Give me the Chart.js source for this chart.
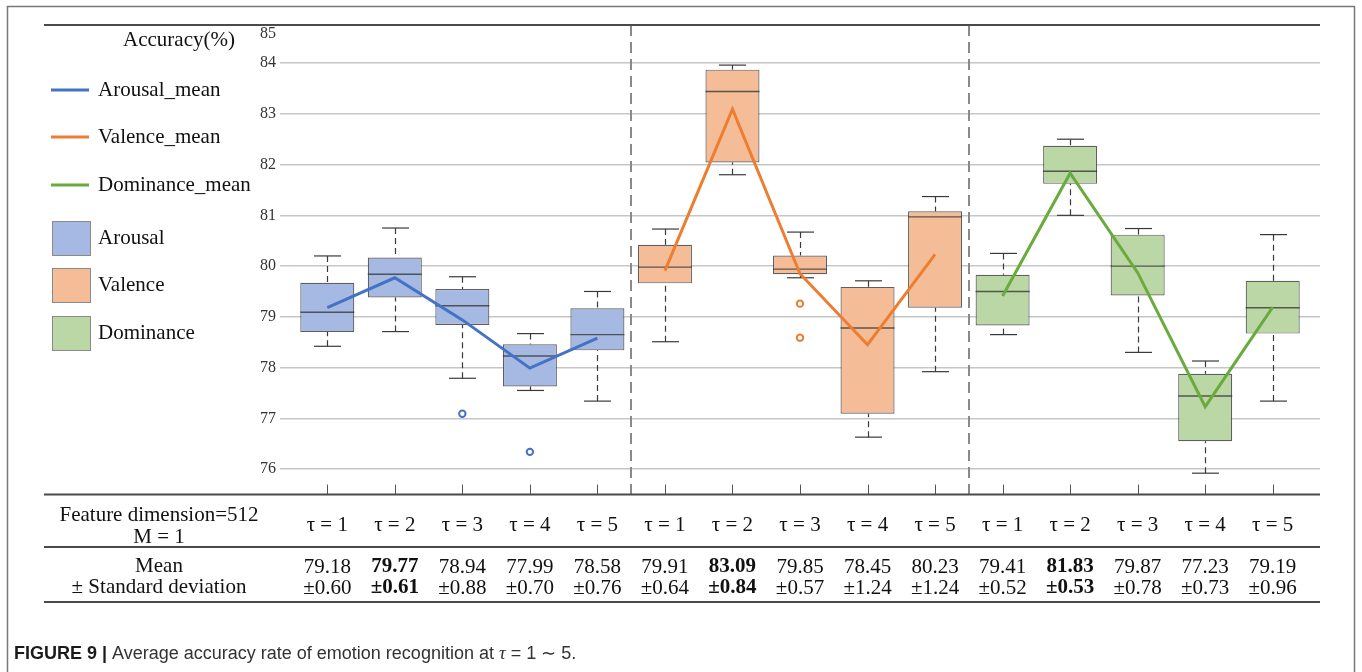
<!DOCTYPE html>
<html>
<head>
<meta charset="utf-8">
<script src="https://cdn.jsdelivr.net/npm/chart.js@4.4.1/dist/chart.umd.min.js"></script>
<style>
  html, body { margin: 0; padding: 0; background: #fff; }
  #wrap { width: 1362px; height: 672px; position: relative; }
</style>
</head>
<body>
<div id="wrap"><canvas id="chart"></canvas></div>
<script>
// ---- data -------------------------------------------------------------
const tauLabels = ['τ = 1', 'τ = 2', 'τ = 3', 'τ = 4', 'τ = 5'];
const accuracyTicks = [76, 77, 78, 79, 80, 81, 82, 83, 84];
const topTickLabel = '85';

// Arousal: whisker ends, quartiles, median, outliers, mean ± sd
const arousalLow      = [78.42, 78.71, 77.79, 77.55, 77.34];
const arousalQ1       = [78.70, 79.38, 78.84, 77.63, 78.34];
const arousalMedian   = [79.09, 79.84, 79.22, 78.23, 78.65];
const arousalQ3       = [79.67, 80.17, 79.55, 78.46, 79.17];
const arousalHigh     = [80.20, 80.75, 79.79, 78.67, 79.50];
const arousalOutliers = [[], [], [77.09], [76.34], []];
const arousalMean     = [79.18, 79.77, 78.94, 77.99, 78.58];
const arousalStd      = [0.60, 0.61, 0.88, 0.70, 0.76];

// Valence
const valenceLow      = [78.51, 81.80, 79.77, 76.63, 77.92];
const valenceQ1       = [79.66, 82.04, 79.84, 77.09, 79.18];
const valenceMedian   = [79.98, 83.44, 79.94, 78.78, 80.97];
const valenceQ3       = [80.42, 83.87, 80.21, 79.59, 81.08];
const valenceHigh     = [80.73, 83.96, 80.67, 79.71, 81.37];
const valenceOutliers = [[], [], [79.26, 78.59], [], []];
const valenceMean     = [79.91, 83.09, 79.85, 78.45, 80.23];
const valenceStd      = [0.64, 0.84, 0.57, 1.24, 1.24];

// Dominance
const dominanceLow      = [78.65, 81.00, 78.30, 75.92, 77.34];
const dominanceQ1       = [78.83, 81.62, 79.42, 76.55, 78.67];
const dominanceMedian   = [79.50, 81.87, 80.00, 77.44, 79.18];
const dominanceQ3       = [79.83, 82.37, 80.62, 77.88, 79.71];
const dominanceHigh     = [80.25, 82.50, 80.74, 78.13, 80.62];
const dominanceOutliers = [[], [], [], [], []];
const dominanceMean     = [79.41, 81.83, 79.87, 77.23, 79.19];
const dominanceStd      = [0.52, 0.53, 0.78, 0.73, 0.96];

// ---- styling ----------------------------------------------------------
const SERIF = "'Liberation Serif', 'Times New Roman', serif";
const SANS = "'Liberation Sans', Arial, sans-serif";

const groups = [
  { name: 'Arousal',   line: '#4472C4', fill: '#a5b9e3', low: arousalLow,   q1: arousalQ1,   med: arousalMedian,   q3: arousalQ3,   high: arousalHigh,   out: arousalOutliers,   mean: arousalMean,   std: arousalStd },
  { name: 'Valence',   line: '#ED7D31', fill: '#f5bd97', low: valenceLow,   q1: valenceQ1,   med: valenceMedian,   q3: valenceQ3,   high: valenceHigh,   out: valenceOutliers,   mean: valenceMean,   std: valenceStd },
  { name: 'Dominance', line: '#6aab3e', fill: '#bad7a5', low: dominanceLow, q1: dominanceQ1, med: dominanceMedian, q3: dominanceQ3, high: dominanceHigh, out: dominanceOutliers, mean: dominanceMean, std: dominanceStd }
];

// position of box i of group g on the linear x axis
const xOf = (g, i) => g * tauLabels.length + i + 1;
const groupSeparators = [5.5, 10.5];

// ---- datasets ---------------------------------------------------------
const boxEdge = 'rgba(55, 55, 55, 0.8)';

const boxSets = groups.map((g, gi) => ({
  type: 'bar',
  label: g.name,
  data: g.q1.map((v, i) => ({ x: xOf(gi, i), y: [v, g.q3[i]] })),
  backgroundColor: g.fill,
  borderColor: boxEdge,
  borderWidth: 1.2,
  borderSkipped: false,
  grouped: false,
  barPercentage: 0.8,
  categoryPercentage: 1,
  order: 3
}));

const meanSets = groups.map((g, gi) => ({
  type: 'line',
  label: g.name + '_mean',
  data: g.mean.map((v, i) => ({ x: xOf(gi, i), y: v })),
  borderColor: g.line,
  borderWidth: 3,
  pointRadius: 0,
  tension: 0,
  fill: false,
  order: 2
}));

const outlierSets = groups.map((g, gi) => ({
  type: 'line',
  label: g.name + ' outliers',
  data: g.out.flatMap((arr, i) => arr.map(v => ({ x: xOf(gi, i), y: v }))),
  showLine: false,
  borderColor: g.line,
  backgroundColor: '#ffffff',
  pointRadius: 3.2,
  pointBorderWidth: 2,
  order: 1
}));

// ---- drawing helpers --------------------------------------------------
function seg(ctx, x1, y1, x2, y2) {
  ctx.beginPath(); ctx.moveTo(x1, y1); ctx.lineTo(x2, y2); ctx.stroke();
}

const boxExtras = {
  id: 'boxExtras',
  beforeDatasetsDraw(chart) {
    const { ctx, chartArea, scales: { x, y } } = chart;
    ctx.save();
    // dashed group separators
    ctx.strokeStyle = '#8a8a8a';
    ctx.lineWidth = 2;
    ctx.setLineDash([11, 6]);
    groupSeparators.forEach(v => {
      const px = Math.round(x.getPixelForValue(v));
      seg(ctx, px, chartArea.top, px, chartArea.bottom);
    });
    // whiskers
    ctx.strokeStyle = '#3a3a3a';
    ctx.lineWidth = 1.2;
    groups.forEach((g, gi) => {
      chart.getDatasetMeta(gi).data.forEach((el, i) => {
        const cx = Math.round(el.x) + 0.5;
        const half = el.width / 4;
        const pLow = y.getPixelForValue(g.low[i]);
        const pHigh = y.getPixelForValue(g.high[i]);
        const pQ1 = y.getPixelForValue(g.q1[i]);
        const pQ3 = y.getPixelForValue(g.q3[i]);
        ctx.setLineDash([6, 4]);
        seg(ctx, cx, pHigh, cx, pQ3);
        seg(ctx, cx, pLow, cx, pQ1);
        ctx.setLineDash([]);
        seg(ctx, cx - half, pHigh, cx + half, pHigh);
        seg(ctx, cx - half, pLow, cx + half, pLow);
      });
    });
    // inward tick marks on the bottom axis
    ctx.strokeStyle = '#555';
    ctx.lineWidth = 1;
    groups.forEach((g, gi) => g.mean.forEach((v, i) => {
      const px = Math.round(x.getPixelForValue(xOf(gi, i))) + 0.5;
      seg(ctx, px, chartArea.bottom - 10, px, chartArea.bottom);
    }));
    ctx.restore();
  },
  afterDatasetDraw(chart, args) {
    if (args.index >= groups.length) return;
    const g = groups[args.index];
    const { ctx, scales: { y } } = chart;
    ctx.save();
    ctx.strokeStyle = boxEdge;
    ctx.lineWidth = 1.4;
    args.meta.data.forEach((el, i) => {
      const py = y.getPixelForValue(g.med[i]);
      seg(ctx, el.x - el.width / 2, py, el.x + el.width / 2, py);
    });
    ctx.restore();
  },
  afterDraw(chart) {
    const { ctx, chartArea, scales: { x, y } } = chart;
    ctx.save();

    // outer frame
    ctx.strokeStyle = '#777';
    ctx.lineWidth = 1.5;
    ctx.strokeRect(7.5, 6.5, 1347, 720);

    // top rule and table rules
    const ruleL = 44, ruleR = chartArea.right;
    ctx.strokeStyle = '#4a4a4a';
    ctx.lineWidth = 2.2;
    seg(ctx, ruleL, chartArea.top, ruleR, chartArea.top);
    seg(ctx, ruleL, chartArea.bottom, ruleR, chartArea.bottom);
    seg(ctx, ruleL, 547, ruleR, 547);
    seg(ctx, ruleL, 602, ruleR, 602);

    // top tick label
    ctx.fillStyle = '#333';
    ctx.font = '16px ' + SERIF;
    ctx.textAlign = 'right';
    ctx.textBaseline = 'middle';
    ctx.fillText(topTickLabel, chartArea.left - 4, 34);

    // legend
    ctx.fillStyle = '#111';
    ctx.font = '21px ' + SERIF;
    ctx.textAlign = 'center';
    ctx.fillText('Accuracy(%)', 179, 40);
    ctx.textAlign = 'left';
    const lineRows = [90, 137, 185];
    groups.forEach((g, gi) => {
      ctx.strokeStyle = g.line;
      ctx.lineWidth = 3;
      seg(ctx, 51, lineRows[gi], 89, lineRows[gi]);
      ctx.fillStyle = '#111';
      ctx.fillText(g.name + '_mean', 98, lineRows[gi]);
    });
    const boxRows = [238, 285, 333];
    groups.forEach((g, gi) => {
      ctx.fillStyle = g.fill;
      ctx.fillRect(52, boxRows[gi] - 17, 38, 34);
      ctx.strokeStyle = '#8a8a8a';
      ctx.lineWidth = 1;
      ctx.strokeRect(52.5, boxRows[gi] - 16.5, 38, 34);
      ctx.fillStyle = '#111';
      ctx.fillText(g.name, 98, boxRows[gi]);
    });

    // table below the axis
    ctx.textAlign = 'center';
    ctx.fillStyle = '#111';
    ctx.font = '21px ' + SERIF;
    ctx.fillText('Feature dimension=512', 159, 515);
    ctx.fillText('M = 1', 159, 537);
    ctx.fillText('Mean', 159, 566);
    ctx.fillText('± Standard deviation', 159, 587);
    groups.forEach((g, gi) => {
      const best = Math.max(...g.mean);
      g.mean.forEach((m, i) => {
        const px = x.getPixelForValue(xOf(gi, i));
        ctx.font = '21px ' + SERIF;
        ctx.fillText(tauLabels[i], px, 525);
        ctx.font = (m === best ? 'bold ' : '') + '21px ' + SERIF;
        ctx.fillText(m.toFixed(2), px, 567);
        ctx.fillText('±' + g.std[i].toFixed(2), px, 588);
      });
    });

    // caption
    ctx.textAlign = 'left';
    let cx = 14;
    const cy = 654;
    ctx.fillStyle = '#1a1a1a';
    ctx.font = 'bold 18px ' + SANS;
    const head = 'FIGURE 9 | ';
    ctx.fillText(head, cx, cy);
    cx += ctx.measureText(head).width;
    ctx.fillStyle = '#333';
    ctx.font = '18px ' + SANS;
    const body = 'Average accuracy rate of emotion recognition at ';
    ctx.fillText(body, cx, cy);
    cx += ctx.measureText(body).width;
    ctx.font = 'italic 19px ' + SERIF;
    ctx.fillText('τ', cx, cy);
    cx += ctx.measureText('τ').width;
    ctx.font = '18px ' + SANS;
    ctx.fillText(' = 1 ∼ 5.', cx, cy);

    ctx.restore();
  }
};

// ---- chart ------------------------------------------------------------
new Chart(document.getElementById('chart'), {
  type: 'bar',
  data: { datasets: [...boxSets, ...meanSets, ...outlierSets] },
  options: {
    responsive: true,
    maintainAspectRatio: false,
    animation: false,
    devicePixelRatio: 1,
    layout: { padding: { left: 240, right: 42, top: 25, bottom: 177.5 } },
    plugins: { legend: { display: false }, tooltip: { enabled: false } },
    scales: {
      x: {
        type: 'linear',
        min: 0.3,
        max: 15.7,
        offset: false,
        display: false
      },
      y: {
        min: 75.5,
        max: 84.75,
        afterBuildTicks: s => { s.ticks = accuracyTicks.map(v => ({ value: v })); },
        afterFit: s => { s.width = 40; },
        border: { display: false },
        grid: { color: '#c6c6c6', lineWidth: 1.5, drawTicks: false },
        ticks: {
          padding: 4,
          color: '#333',
          font: { family: SERIF, size: 16 },
          callback: v => String(v)
        }
      }
    }
  },
  plugins: [boxExtras]
});
</script>
</body>
</html>
